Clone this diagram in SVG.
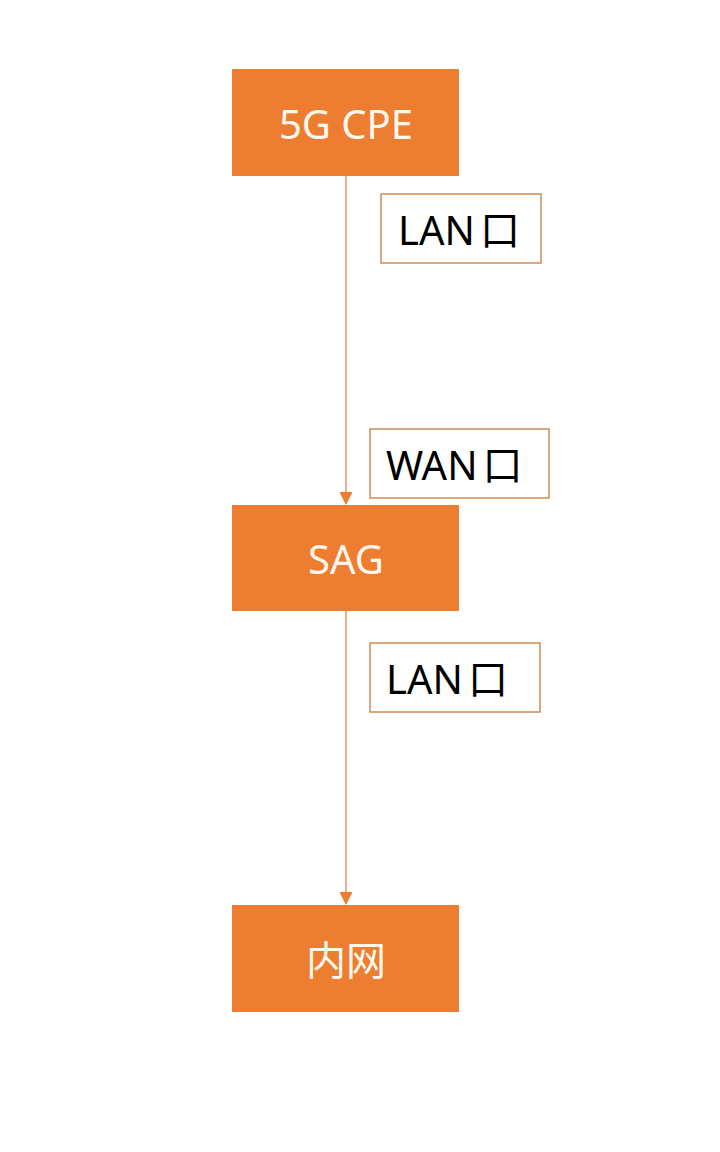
<svg xmlns="http://www.w3.org/2000/svg" width="720" height="1152" viewBox="0 0 720 1152">
<style>
.node{fill:#ED7D31}
.nt{font-family:"Noto Sans","Noto Sans CJK SC",sans-serif;font-size:40px;fill:#FFF8EE;text-anchor:middle;dominant-baseline:central}
.lab{fill:#FFFFFF;stroke:#D08A57;stroke-width:1.5}
.lt{font-family:"Noto Sans","Noto Sans CJK SC",sans-serif;font-size:40px;fill:#000000;dominant-baseline:central}
.conn{stroke:#ED7D31;stroke-width:1.2;fill:none}
</style>
<defs>
<marker id="arr" markerWidth="13" markerHeight="13" refX="12" refY="6.5" orient="auto" markerUnits="userSpaceOnUse">
<path d="M0,0 L13,6.5 L0,13 Z" fill="#ED7D31"/>
</marker>
</defs>
<rect width="720" height="1152" fill="#FFFFFF"/>
<g id="connectors">
<line class="conn" x1="346" y1="176" x2="346" y2="504" marker-end="url(#arr)"/>
<line class="conn" x1="346" y1="611" x2="346" y2="904" marker-end="url(#arr)"/>
</g>
<g id="node-cpe">
<rect class="node" x="232" y="69" width="227" height="107"/>
<text class="nt" x="346" y="123">5G CPE</text>
</g>
<g id="node-sag">
<rect class="node" x="232" y="505" width="227" height="106"/>
<text class="nt" x="346" y="558">SAG</text>
</g>
<g id="node-intranet">
<rect class="node" x="232" y="905" width="227" height="107"/>
<text class="nt" x="346" y="959" font-size="42">内网</text>
</g>
<g id="label-lan1">
<rect class="lab" x="381" y="194" width="160" height="69"/>
<text class="lt" x="398" y="229">LAN<tspan dx="5">口</tspan></text>
</g>
<g id="label-wan">
<rect class="lab" x="370" y="429" width="179" height="69"/>
<text class="lt" x="386" y="464">WAN<tspan dx="5">口</tspan></text>
</g>
<g id="label-lan2">
<rect class="lab" x="370" y="643" width="170" height="69"/>
<text class="lt" x="386" y="678">LAN<tspan dx="5">口</tspan></text>
</g>
</svg>
